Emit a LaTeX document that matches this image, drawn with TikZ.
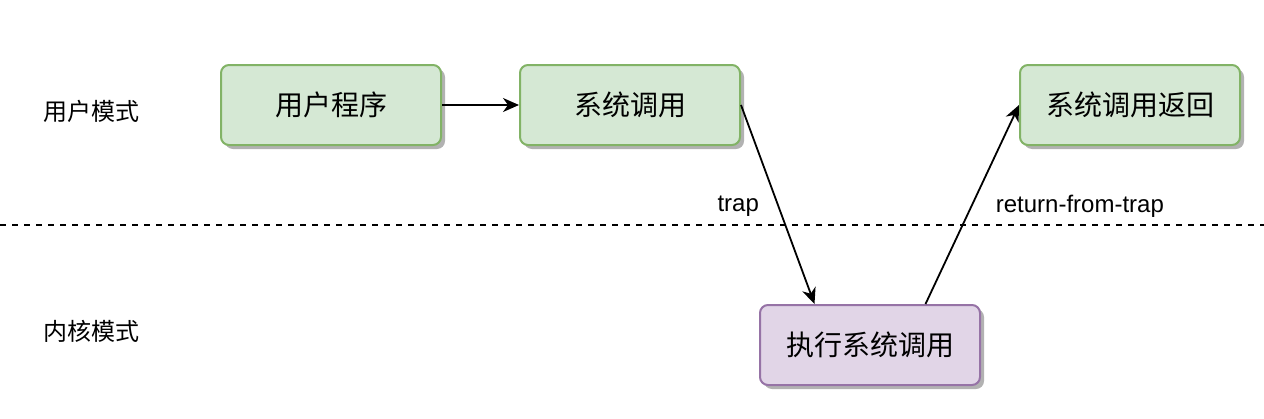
\documentclass[tikz,border=0pt]{standalone}
\usepackage{fontspec}
\setmainfont{Liberation Sans}
\newfontfamily\cjk{Noto Sans CJK SC}
\usetikzlibrary{arrows.meta,positioning,calc,shadows}
\definecolor{verdeFundo}{HTML}{D5E8D4}
\definecolor{verdeBorda}{HTML}{82B366}
\definecolor{roxoFundo}{HTML}{E1D5E7}
\definecolor{roxoBorda}{HTML}{9673A6}
\tikzset{
    bloco/.style={
        rectangle,
        draw,
        line width=1pt,
        rounded corners=4pt,
        align=center,
        minimum width=110pt,
        minimum height=40pt,
        font=\cjk\fontsize{14pt}{17pt}\selectfont,
        drop shadow={shadow xshift=2pt, shadow yshift=-2pt, opacity=0.3, fill=black}
    },
    usuario/.style={bloco, fill=verdeFundo, draw=verdeBorda},
    nucleo/.style={bloco, fill=roxoFundo, draw=roxoBorda},
    modo/.style={font=\cjk\fontsize{12pt}{14pt}\selectfont},
    rotulo/.style={font=\fontsize{12pt}{14pt}\selectfont},
    fluxo/.style={-{Stealth[length=8pt, width=7pt, inset=2.5pt]}, line width=0.9pt},
    divisa/.style={dashed, dash pattern=on 3pt off 3pt, line width=0.8pt}
}

\begin{document}
\begin{tikzpicture}[x=0.5pt, y=-0.5pt, node distance=38.5pt and 38.5pt]
        \useasboundingbox (0,0) rectangle (1264,418);
        \node[usuario] (programa) at (331,105)
            {用户程序};
        \node[usuario, right=of programa] (chamada)
            {系统调用};
        \node[usuario, right=139pt of chamada] (retorno)
            {系统调用返回};
        \node[nucleo, below=79pt of chamada, xshift=120pt] (execucao)
            {执行系统调用};
        \node[modo] (modoUsuario) at (91,111) {用户模式};
        \node[modo] (modoNucleo) at (91,331) {内核模式};
        \coordinate (divisaE) at (0,225);
        \coordinate (divisaD) at (1264,225);
        \draw[divisa] (divisaE) -- (divisaD);
        \draw[fluxo] (programa) -- (chamada);
        \draw[fluxo] (chamada.east)
            -- ($(execucao.north west)!0.25!(execucao.north east)$)
            node[rotulo, pos=0.51, left=6pt] {trap};
        \draw[fluxo] ($(execucao.north west)!0.75!(execucao.north east)$)
            -- (retorno.west)
            node[rotulo, pos=0.49, right=8.5pt] {return-from-trap};
    \end{tikzpicture}
\end{document}
